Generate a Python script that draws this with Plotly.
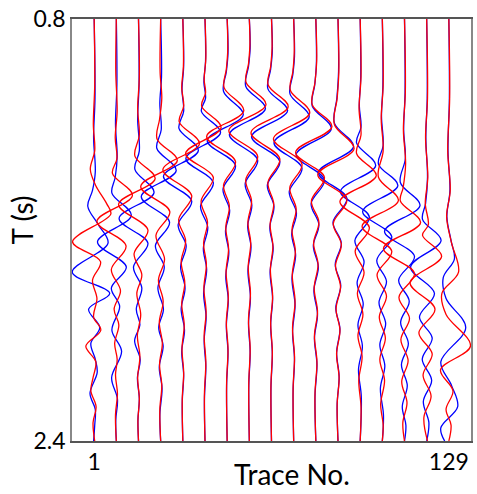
import plotly.graph_objects as go

trace_numbers = [1, 9, 17, 25, 33, 41, 49, 57, 65, 73, 81, 89, 97, 105, 113, 121, 129]
x_tick_vals = [1, 129]
x_tick_text = ["1", "129"]
y_tick_vals = [0.8, 2.4]
y_tick_text = ["0.8", "2.4"]
x_title = "Trace No."
y_title = "T (s)"

# (time in s, amplitude in trace-number units) knots
red_001 = [(0.80,0.0),(1.05,0.2),(1.20,-0.3),(1.30,0.2),(1.37,-1.4),(1.43,0.5),(1.50,4.5),(1.54,6.0),(1.645,-7.8),(1.72,2.3),(1.79,-0.6),(1.86,1.0),(1.93,-0.2),(1.98,2.4),(2.04,-3.0),(2.10,0.6),(2.16,-0.4),(2.21,-1.2),(2.27,0.7),(2.33,-0.4),(2.40,0.2)]
blue_001 = [(0.80,0.0),(1.10,0.3),(1.25,-0.2),(1.38,0.4),(1.45,-0.6),(1.51,-2.3),(1.58,1.5),(1.65,5.0),(1.76,-7.9),(1.84,5.6),(1.90,-2.0),(1.97,2.0),(2.03,-1.2),(2.09,0.4),(2.14,1.1),(2.22,-1.5),(2.28,0.4),(2.34,0.2),(2.40,-0.2)]
red_009 = [(0.80,0),(1.00,-0.2),(1.15,0.3),(1.25,-0.4),(1.33,0.2),(1.385,-1.4),(1.469,5.8),(1.567,-7.0),(1.66,3.5),(1.75,-1.8),(1.83,1.5),(1.90,-0.8),(1.96,0.9),(2.03,-0.6),(2.09,0.3),(2.15,-0.3),(2.22,0.4),(2.30,-0.3),(2.40,0.0)]
blue_009 = [(0.80,0),(1.05,0.2),(1.20,-0.3),(1.32,0.3),(1.40,-0.4),(1.46,-1.6),(1.545,5.4),(1.645,-6.8),(1.74,3.6),(1.82,-1.8),(1.89,1.2),(1.98,-1.6),(2.06,1.9),(2.16,-1.7),(2.24,0.4),(2.32,-0.2),(2.40,0.0)]
red_017 = [(0.80,0),(1.02,0.3),(1.14,-0.3),(1.24,0.3),(1.32,-1.3),(1.405,6.0),(1.503,-7.2),(1.60,3.4),(1.69,-1.6),(1.77,1.2),(1.84,-0.6),(1.92,0.8),(2.00,-0.4),(2.08,0.5),(2.16,-0.3),(2.24,0.3),(2.32,-0.2),(2.40,0)]
blue_017 = [(0.80,0),(1.05,0.2),(1.18,-0.3),(1.30,0.3),(1.37,-1.3),(1.458,5.6),(1.556,-7.0),(1.65,3.4),(1.74,-1.8),(1.82,1.2),(1.90,-0.8),(1.96,0.5),(2.02,-1.4),(2.09,0.6),(2.16,-0.4),(2.24,0.3),(2.32,-0.2),(2.40,0)]
red_025 = [(0.80,0),(1.00,-0.2),(1.10,0.4),(1.18,-0.4),(1.255,-1.3),(1.337,6.0),(1.435,-7.2),(1.53,3.3),(1.62,-1.7),(1.71,1.4),(1.79,-0.8),(1.87,0.9),(1.95,-0.5),(2.03,0.6),(2.11,-0.4),(2.19,0.4),(2.28,-0.3),(2.40,0)]
blue_025 = [(0.80,0),(1.02,0.3),(1.12,-0.3),(1.22,0.2),(1.29,-1.4),(1.375,5.6),(1.473,-7.0),(1.57,3.2),(1.66,-1.9),(1.74,1.3),(1.82,-1.0),(1.90,1.0),(1.97,-0.7),(2.04,0.9),(2.12,-0.5),(2.20,0.5),(2.30,-0.3),(2.40,0)]
red_033 = [(0.80,0),(0.98,0.2),(1.06,-0.4),(1.13,0.3),(1.19,-1.3),(1.273,6.0),(1.371,-7.2),(1.47,3.2),(1.56,-1.5),(1.64,1.0),(1.72,-0.6),(1.80,0.7),(1.88,-0.4),(1.96,0.5),(2.05,-0.3),(2.14,0.3),(2.24,-0.2),(2.40,0)]
blue_033 = [(0.80,0),(0.98,0.3),(1.07,-0.3),(1.15,0.3),(1.215,-1.4),(1.299,5.6),(1.397,-7.0),(1.49,3.2),(1.58,-1.7),(1.66,1.2),(1.74,-0.8),(1.82,0.8),(1.90,-0.6),(1.98,0.6),(2.06,-0.4),(2.15,0.3),(2.25,-0.2),(2.40,0)]
red_041 = [(0.80,0),(0.95,0.3),(1.03,-0.3),(1.08,0.2),(1.13,-1.2),(1.212,5.8),(1.31,-7.0),(1.40,3.0),(1.49,-1.4),(1.57,0.9),(1.65,-0.5),(1.73,0.5),(1.82,-0.4),(1.91,0.4),(2.00,-0.3),(2.10,0.3),(2.22,-0.2),(2.40,0)]
blue_041 = [(0.80,0),(0.96,0.2),(1.04,-0.4),(1.10,0.2),(1.15,-1.3),(1.231,5.6),(1.329,-6.9),(1.42,3.0),(1.51,-1.6),(1.59,1.0),(1.67,-0.6),(1.75,0.6),(1.84,-0.5),(1.93,0.4),(2.02,-0.3),(2.12,0.3),(2.24,-0.2),(2.40,0)]
red_049 = [(0.80,0),(0.92,0.2),(0.99,-0.3),(1.06,-1.1),(1.148,6.0),(1.246,-7.4),(1.34,3.0),(1.43,-1.3),(1.51,0.8),(1.59,-0.5),(1.67,0.5),(1.76,-0.4),(1.85,0.4),(1.95,-0.3),(2.05,0.3),(2.18,-0.2),(2.40,0)]
blue_049 = [(0.80,0),(0.93,0.3),(1.00,-0.3),(1.075,-1.3),(1.163,5.8),(1.261,-7.2),(1.355,3.0),(1.445,-1.5),(1.525,0.9),(1.605,-0.6),(1.685,0.6),(1.775,-0.5),(1.865,0.4),(1.965,-0.3),(2.065,0.3),(2.19,-0.2),(2.40,0)]
red_057 = [(0.80,0),(0.90,0.2),(0.97,-0.3),(1.04,-1.2),(1.125,6.0),(1.223,-7.4),(1.32,3.0),(1.41,-1.3),(1.49,0.8),(1.57,-0.5),(1.65,0.5),(1.74,-0.4),(1.84,0.4),(1.94,-0.3),(2.05,0.3),(2.18,-0.2),(2.40,0)]
blue_057 = [(0.80,0),(0.91,0.3),(0.98,-0.3),(1.055,-1.3),(1.140,5.8),(1.238,-7.2),(1.335,3.0),(1.425,-1.5),(1.505,0.9),(1.585,-0.6),(1.665,0.6),(1.755,-0.5),(1.855,0.4),(1.955,-0.3),(2.065,0.3),(2.19,-0.2),(2.40,0)]
red_065 = [(0.80,0),(0.91,0.2),(0.98,-0.3),(1.05,-1.2),(1.133,6.0),(1.231,-7.4),(1.33,3.0),(1.42,-1.3),(1.50,0.8),(1.58,-0.5),(1.66,0.5),(1.75,-0.4),(1.85,0.4),(1.95,-0.3),(2.06,0.3),(2.19,-0.2),(2.40,0)]
blue_065 = [(0.80,0),(0.92,0.3),(0.99,-0.3),(1.065,-1.3),(1.148,5.8),(1.246,-7.2),(1.34,3.0),(1.43,-1.5),(1.51,0.9),(1.59,-0.6),(1.67,0.6),(1.76,-0.5),(1.86,0.4),(1.96,-0.3),(2.07,0.3),(2.20,-0.2),(2.40,0)]
red_073 = [(0.80,0),(0.93,0.2),(1.00,-0.3),(1.07,-1.2),(1.156,5.8),(1.254,-7.3),(1.35,3.0),(1.44,-1.4),(1.52,0.9),(1.60,-0.6),(1.68,0.6),(1.77,-0.5),(1.87,0.5),(1.97,-0.4),(2.08,0.3),(2.20,-0.2),(2.40,0)]
blue_073 = [(0.80,0),(0.94,0.3),(1.01,-0.3),(1.085,-1.3),(1.171,5.6),(1.269,-7.1),(1.365,3.0),(1.455,-1.6),(1.535,1.0),(1.615,-0.7),(1.695,0.7),(1.785,-0.6),(1.885,0.5),(1.985,-0.4),(2.09,0.3),(2.21,-0.2),(2.40,0)]
red_081 = [(0.80,0),(0.96,0.3),(1.04,-0.3),(1.125,-1.3),(1.208,5.8),(1.306,-7.3),(1.40,3.1),(1.49,-1.6),(1.57,1.1),(1.65,-0.8),(1.73,0.8),(1.82,-0.6),(1.91,0.6),(2.00,-0.5),(2.10,0.4),(2.22,-0.3),(2.40,0)]
blue_081 = [(0.80,0),(0.97,0.2),(1.05,-0.4),(1.13,-1.3),(1.216,5.6),(1.314,-7.1),(1.41,3.1),(1.50,-1.7),(1.58,1.1),(1.66,-0.9),(1.74,0.9),(1.83,-0.7),(1.92,0.6),(2.01,-0.5),(2.11,0.4),(2.23,-0.3),(2.40,0)]
red_089 = [(0.80,0),(1.00,0.3),(1.10,-0.3),(1.20,-1.3),(1.292,5.8),(1.39,-7.3),(1.485,3.2),(1.575,-1.7),(1.655,1.2),(1.735,-0.9),(1.815,0.9),(1.90,-0.7),(1.98,0.7),(2.07,-0.5),(2.16,0.4),(2.26,-0.3),(2.40,0)]
blue_089 = [(0.80,0),(1.00,0.2),(1.10,-0.4),(1.195,-1.3),(1.284,5.6),(1.382,-7.1),(1.48,3.2),(1.57,-1.8),(1.65,1.2),(1.73,-1.0),(1.81,1.0),(1.895,-0.8),(1.975,0.7),(2.065,-0.5),(2.155,0.4),(2.26,-0.3),(2.40,0)]
red_097 = [(0.80,0),(1.02,0.3),(1.14,-0.4),(1.24,0.3),(1.31,-1.3),(1.394,5.8),(1.492,-7.3),(1.59,3.3),(1.68,-1.8),(1.76,1.4),(1.84,-1.0),(1.92,1.0),(2.00,-0.8),(2.08,0.7),(2.17,-0.5),(2.27,0.3),(2.40,0)]
blue_097 = [(0.80,0),(1.02,0.2),(1.13,-0.3),(1.21,0.3),(1.27,-1.3),(1.356,5.6),(1.454,-7.1),(1.55,3.3),(1.64,-1.9),(1.72,1.4),(1.80,-1.1),(1.88,1.1),(1.96,-0.8),(2.04,0.8),(2.13,-0.6),(2.23,0.4),(2.40,0)]
red_105 = [(0.80,0),(1.05,0.3),(1.18,-0.4),(1.30,0.3),(1.40,-1.4),(1.488,5.8),(1.586,-7.3),(1.68,3.4),(1.77,-1.9),(1.85,1.5),(1.93,-1.1),(2.01,1.1),(2.09,-0.9),(2.17,0.8),(2.26,-0.6),(2.34,0.3),(2.40,0)]
blue_105 = [(0.80,0),(1.05,0.2),(1.17,-0.3),(1.28,0.3),(1.35,-1.4),(1.432,5.6),(1.53,-7.1),(1.625,3.4),(1.715,-2.0),(1.795,1.5),(1.875,-1.2),(1.955,1.2),(2.035,-0.9),(2.115,0.9),(2.20,-0.7),(2.30,0.4),(2.40,0)]
red_113 = [(0.80,0),(1.08,0.3),(1.22,-0.4),(1.35,0.4),(1.44,-0.5),(1.49,-1.5),(1.572,5.8),(1.67,-7.6),(1.765,3.6),(1.855,-2.0),(1.935,1.8),(2.015,-1.3),(2.095,1.3),(2.175,-1.0),(2.255,0.9),(2.33,-0.6),(2.40,0)]
blue_113 = [(0.80,0),(1.08,0.2),(1.22,-0.3),(1.33,0.3),(1.42,-1.5),(1.507,5.6),(1.605,-7.2),(1.70,3.6),(1.79,-2.1),(1.87,1.7),(1.95,-1.4),(2.03,1.4),(2.11,-1.1),(2.19,1.0),(2.27,-0.8),(2.34,0.5),(2.40,0)]
red_121 = [(0.80,0),(1.10,0.3),(1.25,-0.4),(1.40,0.4),(1.50,-0.5),(1.58,0.6),(1.62,-1.5),(1.70,5.4),(1.80,-6.0),(1.90,3.0),(1.99,-2.8),(2.07,2.0),(2.15,-1.3),(2.23,1.6),(2.31,-1.0),(2.40,0.3)]
blue_121 = [(0.80,0),(1.10,0.2),(1.25,-0.3),(1.40,0.3),(1.50,-0.4),(1.56,-1.5),(1.64,5.2),(1.74,-5.8),(1.84,2.8),(1.93,-2.6),(2.01,2.0),(2.09,-1.6),(2.17,1.8),(2.25,-1.2),(2.33,0.8),(2.40,0)]
red_129 = [(0.80,0),(1.10,0.3),(1.30,-0.4),(1.45,0.5),(1.55,-0.8),(1.65,1.0),(1.76,3.5),(1.84,-2.5),(1.92,-1.0),(2.04,7.8),(2.13,-3.0),(2.21,1.5),(2.28,-1.0),(2.34,0.8),(2.40,0)]
blue_129 = [(0.80,0),(1.10,0.2),(1.30,-0.3),(1.45,0.4),(1.55,-0.7),(1.64,0.8),(1.71,2.0),(1.78,-2.0),(1.86,-1.0),(1.97,6.1),(2.10,-2.9),(2.19,1.0),(2.27,3.2),(2.35,-2.9),(2.40,-1.5)]

red_traces = [red_001, red_009, red_017, red_025, red_033, red_041, red_049, red_057,
              red_065, red_073, red_081, red_089, red_097, red_105, red_113, red_121, red_129]
blue_traces = [blue_001, blue_009, blue_017, blue_025, blue_033, blue_041, blue_049, blue_057,
               blue_065, blue_073, blue_081, blue_089, blue_097, blue_105, blue_113, blue_121, blue_129]

fig = go.Figure()

def add_wiggle(tn, knots, color):
    fig.add_trace(go.Scatter(
        x=[tn + a for t, a in knots],
        y=[t for t, a in knots],
        mode="lines",
        line=dict(color=color, width=1.3, shape="spline", smoothing=1.0),
        showlegend=False, hoverinfo="skip",
    ))

for tn, knots in zip(trace_numbers, blue_traces):
    add_wiggle(tn, knots, "#0000ff")
for tn, knots in zip(trace_numbers, red_traces):
    add_wiggle(tn, knots, "#ff0000")

font_family = "Lato, 'Open Sans', sans-serif"
fig.update_layout(
    width=477, height=494,
    margin=dict(l=72, r=4, t=18, b=53),
    paper_bgcolor="white", plot_bgcolor="white",
    font=dict(family=font_family, color="black", size=23),
    xaxis=dict(
        range=[-7, 137], tickvals=x_tick_vals, ticktext=x_tick_text,
        showgrid=False, zeroline=False, showline=True, mirror=True,
        linecolor="#555555", linewidth=1.5, ticks="",
        tickfont=dict(size=23),
    ),
    yaxis=dict(
        range=[2.4, 0.8], tickvals=y_tick_vals, ticktext=y_tick_text,
        showgrid=False, zeroline=False, showline=True, mirror=True,
        linecolor="#888888", linewidth=1.5, ticks="",
        tickfont=dict(size=23),
    ),
    annotations=[
        dict(text=x_title, xref="paper", yref="paper", x=0.551, y=-0.078,
             xanchor="center", yanchor="middle", showarrow=False,
             font=dict(size=28)),
        dict(text=y_title, xref="paper", yref="paper", x=-0.125, y=0.523,
             xanchor="center", yanchor="middle", showarrow=False, textangle=-90,
             font=dict(size=28)),
    ],
)

fig.write_html("out.html")
